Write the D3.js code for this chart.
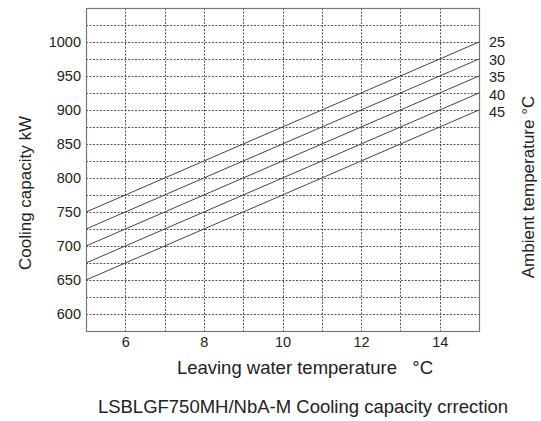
<!DOCTYPE html>
<html><head><meta charset="utf-8">
<script src="https://cdn.jsdelivr.net/npm/d3@7"></script>
<style>body{margin:0;background:#fff}svg{display:block}text{font-family:"Liberation Sans",Arial,sans-serif;fill:#222}</style>
</head><body>
<svg id="c" width="541" height="421"></svg>
<script>
const ambientTemps = [25, 30, 35, 40, 45];
const leavingTemps = [5, 15];
const capacityAt5 = [750, 725, 700, 675, 650];
const capacityAt15 = [1000, 975, 950, 925, 900];
const xTicks = [6, 8, 10, 12, 14];
const yTicks = [600, 650, 700, 750, 800, 850, 900, 950, 1000];

const svg = d3.select("#c");
const L = 86, R = 479, T = 8, B = 331;
const x = d3.scaleLinear().domain([5, 15]).range([L, R]);
const y = d3.scaleLinear().domain([575, 1050]).range([B, T]);

// grid
const g = svg.append("g");
g.selectAll(".hg").data(d3.range(600, 1050, 25)).join("line")
  .attr("x1", L).attr("x2", R).attr("y1", d => Math.round(y(d)) + 0.5).attr("y2", d => Math.round(y(d)) + 0.5)
  .attr("stroke", "#555").attr("stroke-width", 1).attr("stroke-dasharray", "2,1.5");
g.selectAll(".vg").data(d3.range(6, 15, 1)).join("line")
  .attr("y1", T).attr("y2", B).attr("x1", d => Math.round(x(d)) + 0.5).attr("x2", d => Math.round(x(d)) + 0.5)
  .attr("stroke", "#555").attr("stroke-width", 1).attr("stroke-dasharray", "2,1.5");

// border
svg.append("rect").attr("x", L + 0.5).attr("y", T + 0.5).attr("width", R - L).attr("height", B - T)
  .attr("fill", "none").attr("stroke", "#777").attr("stroke-width", 1.2);

// axes
const xa = svg.append("g").attr("transform", `translate(0,${B})`)
  .call(d3.axisBottom(x).tickValues(xTicks).tickSize(0).tickPadding(6).tickFormat(d3.format("d")));
xa.select(".domain").remove();
xa.selectAll("text").attr("font-size", 14.5).attr("font-family", "Liberation Sans, Arial").attr("fill", "#222");
const ya = svg.append("g").attr("transform", `translate(${L},0)`)
  .call(d3.axisLeft(y).tickValues(yTicks).tickSize(0).tickPadding(5).tickFormat(d3.format("d")));
ya.select(".domain").remove();
ya.selectAll("text").attr("font-size", 14.5).attr("font-family", "Liberation Sans, Arial").attr("fill", "#222");

// lines
const line = d3.line().x(d => x(d[0])).y(d => y(d[1]));
ambientTemps.forEach((t, i) => {
  const pts = [[leavingTemps[0], capacityAt5[i]], [leavingTemps[1], capacityAt15[i]]];
  svg.append("path").attr("d", line(pts)).attr("fill", "none").attr("stroke", "#444").attr("stroke-width", 1);
});

// right labels
const labY = [42, 60, 77, 95, 112];
svg.selectAll(".rl").data(ambientTemps).join("text")
  .attr("x", 489).attr("y", (d, i) => labY[i]).attr("dy", "0.35em")
  .attr("font-size", 14.5).text(d => d);

// titles
svg.append("text").attr("transform", "translate(31,193) rotate(-90)").attr("text-anchor", "middle")
  .attr("font-size", 17).text("Cooling capacity kW");
svg.append("text").attr("transform", "translate(534,187) rotate(-90)").attr("text-anchor", "middle")
  .attr("font-size", 17).text("Ambient temperature °C");
svg.append("text").attr("x", 305).attr("y", 374).attr("text-anchor", "middle").attr("font-size", 18.5)
  .attr("xml:space", "preserve").style("white-space", "pre").text("Leaving water temperature   °C");
svg.append("text").attr("x", 303).attr("y", 413).attr("text-anchor", "middle").attr("font-size", 18.5)
  .text("LSBLGF750MH/NbA-M Cooling capacity crrection");
</script>
</body></html>
